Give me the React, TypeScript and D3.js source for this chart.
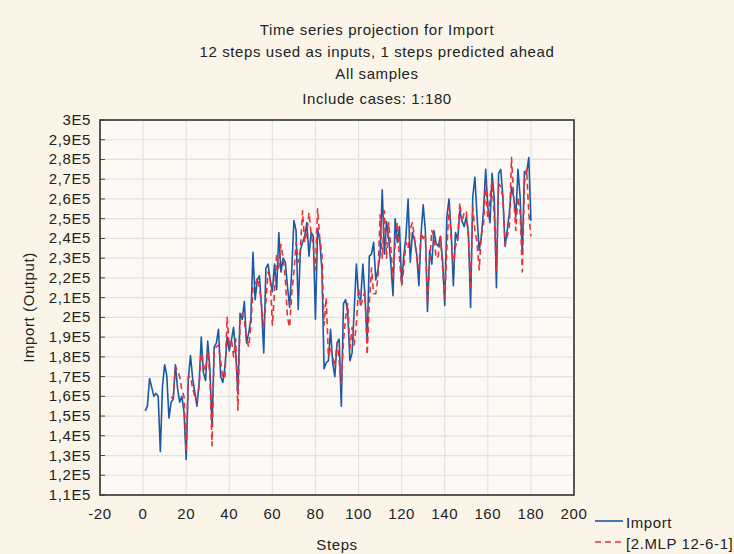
import React from "react";
import * as d3 from "d3";

// Import series (units of 1E4), steps 1..180
const importValues: number[] = [
  15.26, 15.5, 16.9, 16.45, 16.0, 16.15, 16.0, 13.2, 16.5, 17.6,
  17.05, 14.9, 15.7, 15.86, 17.6, 16.4, 15.7, 16.0, 15.2, 12.8,
  16.9, 18.06, 16.9, 16.2, 15.5, 16.7, 19.0, 17.2, 16.8, 18.8,
  17.4, 14.5, 18.5, 18.7, 19.4, 17.0, 16.7, 17.5, 19.0, 18.3,
  18.85, 19.5, 18.2, 16.15, 20.2, 19.9, 20.8, 18.7, 19.2, 19.9,
  23.3, 20.9, 21.9, 22.1, 20.5, 18.2, 22.5, 22.7, 21.9, 21.3,
  22.7, 21.4, 24.3, 22.3, 23.0, 22.8, 21.6, 20.5, 22.4, 24.9,
  24.4, 20.4, 23.4, 23.8, 24.1, 24.8, 23.1, 24.3, 24.1, 19.9,
  24.5, 23.9, 22.4, 17.4, 17.7, 17.8, 19.4, 17.7, 17.0, 18.7,
  18.9, 15.5, 20.7, 20.9, 20.2, 17.8, 18.2, 20.4, 22.7, 21.0,
  20.9, 22.7, 21.05, 18.7, 23.1, 23.2, 23.8, 21.9, 22.4, 23.2,
  26.46, 23.2, 24.85, 24.0, 22.7, 21.1, 25.0, 23.8, 24.6, 21.7,
  23.1, 24.1, 26.0, 22.8, 24.3, 23.9, 23.2, 21.6, 24.2, 25.7,
  24.4, 20.3, 23.4, 22.7, 24.4, 23.75, 23.6, 24.1, 22.9, 20.6,
  25.1, 26.0, 24.3, 21.6, 24.3, 23.9, 25.4, 24.9, 24.6, 25.1,
  24.3, 20.5, 26.1, 27.1, 25.1, 23.4, 24.1, 25.4, 27.5, 25.6,
  24.8, 27.3, 26.0, 21.5, 27.3, 27.5, 26.1, 23.6, 24.4, 25.3,
  26.6, 26.1, 25.1, 27.5, 26.1, 23.2, 27.4, 27.3, 28.1, 24.9,
];

// MLP prediction (units of 1E4), steps 13..180
const predStart = 13;
const predValues: number[] = [
  15.9, 16.0, 17.5, 17.3, 17.0, 16.3, 16.0, 13.2,
  17.0, 17.0, 16.4, 16.0, 15.8, 16.5, 18.2, 17.6, 17.3, 18.3,
  17.0, 13.5, 18.4, 18.5, 18.6, 17.8, 16.9, 17.0, 20.0, 18.5,
  18.9, 18.0, 18.9, 15.3, 19.8, 20.2, 19.8, 18.9, 18.5, 19.5,
  21.5, 21.6, 22.0, 21.5, 20.6, 19.5, 20.8, 22.3, 22.0, 19.6,
  21.3, 23.2, 22.5, 23.7, 23.0, 22.0, 20.0, 19.5, 21.2, 22.3,
  23.8, 22.8, 23.4, 25.4, 23.8, 24.3, 25.3, 24.2, 23.6, 22.4,
  25.5, 24.0, 23.2, 19.6, 21.0, 18.0, 18.5, 18.0, 17.5, 18.7,
  17.8, 16.6, 18.8, 20.0, 20.7, 18.4, 19.5, 18.6, 19.7, 21.5,
  20.5, 21.0, 21.3, 18.1, 20.7, 22.5, 21.2, 21.2, 22.0, 25.2,
  23.0, 25.4, 23.0, 24.8, 23.5, 22.0, 23.8, 24.8, 23.0, 21.6,
  22.5, 23.8, 23.5, 24.5, 24.8, 24.0, 23.0, 22.5, 24.3, 24.0,
  24.2, 20.7, 22.8, 24.4, 24.1, 23.0, 23.1, 24.1, 22.5, 21.0,
  23.5, 25.6, 24.0, 22.6, 23.6, 24.0, 25.8, 24.8, 25.3, 25.4,
  24.0, 21.4, 25.6, 24.4, 23.8, 22.4, 24.2, 24.7, 26.8, 25.0,
  26.1, 26.9, 25.1, 22.4, 26.8, 26.6, 26.1, 23.7, 24.1, 24.6,
  28.1, 26.1, 24.4, 26.1, 25.3, 22.3, 26.8, 27.5, 25.3, 24.1,
];

const xTicks: number[] = [-20, 0, 20, 40, 60, 80, 100, 120, 140, 160, 180, 200];
const yTicks: number[] = [11, 12, 13, 14, 15, 16, 17, 18, 19, 20, 21, 22, 23, 24, 25, 26, 27, 28, 29, 30];
const titleLines: string[] = [
  "Time series projection for Import",
  "12 steps used as inputs, 1 steps predicted ahead",
  "All samples",
];
const subtitle = "Include cases: 1:180";
const legendLabels: string[] = ["Import", "[2.MLP 12-6-1]"];

const W = 734;
const H = 554;
const L = 100, R = 574, T = 120, B = 495;
const FONT = "'Liberation Sans', Arial, sans-serif";
const FS = 15;
const LS = 0.6;
const BLUE = "#1a5aa3";
const RED = "#e8303a";
const TXT = "#222";

function fmtY(v: number): string {
  const s = (v / 10).toString().replace(".", ",");
  return s + "E5";
}

export default function App() {
  const x = d3.scaleLinear().domain([-20, 200]).range([L, R]);
  const y = d3.scaleLinear().domain([11, 30]).range([B, T]);

  const importPts: [number, number][] = importValues.map((v, i) => [i + 1, v]);
  const predPts: [number, number][] = predValues.map((v, i) => [i + predStart, v]);

  const line = d3
    .line<[number, number]>()
    .x((d) => x(d[0]))
    .y((d) => y(d[1]));

  const tp = { fontSize: FS, letterSpacing: LS, fill: TXT } as const;

  return (
    <svg
      width={W}
      height={H}
      style={{ position: "absolute", left: 0, top: 0 }}
      fontFamily={FONT}
    >
      <rect x={0} y={0} width={W} height={H} fill="#fbf5e9" />
      <rect x={L} y={T} width={R - L} height={B - T} fill="#fdfaf5" />
      {/* grid */}
      {yTicks.map((t) => (
        <line key={"gy" + t} x1={L} x2={R} y1={y(t)} y2={y(t)} stroke="#e2e2e2" strokeWidth={1.2} />
      ))}
      {xTicks.map((t) => (
        <line key={"gx" + t} x1={x(t)} x2={x(t)} y1={T} y2={B} stroke="#e2e2e2" strokeWidth={1.2} />
      ))}
      {/* ticks */}
      {yTicks.map((t) => (
        <line key={"ty" + t} x1={L} x2={L + 5} y1={y(t)} y2={y(t)} stroke="#444" strokeWidth={1} />
      ))}
      {/* series */}
      <path d={line(importPts) || ""} fill="none" stroke={BLUE} strokeWidth={1.6} strokeLinejoin="round" />
      <path d={line(predPts) || ""} fill="none" stroke={RED} strokeWidth={1.6} strokeDasharray="6,4" strokeLinejoin="round" />
      {/* frame */}
      <rect x={L} y={T} width={R - L} height={B - T} fill="none" stroke="#333" strokeWidth={1.6} />
      {/* y tick labels */}
      {yTicks.map((t) => (
        <text key={"ly" + t} x={91} y={y(t) + 5} textAnchor="end" {...tp}>
          {fmtY(t)}
        </text>
      ))}
      {/* x tick labels */}
      {xTicks.map((t) => (
        <text key={"lx" + t} x={x(t)} y={519} textAnchor="middle" {...tp}>
          {t}
        </text>
      ))}
      {/* titles */}
      {titleLines.map((s, i) => (
        <text key={"t" + i} x={377} y={35 + i * 22} textAnchor="middle" {...tp}>
          {s}
        </text>
      ))}
      <text x={377} y={104} textAnchor="middle" {...tp}>
        {subtitle}
      </text>
      {/* axis titles */}
      <text x={(L + R) / 2} y={550} textAnchor="middle" {...tp}>
        Steps
      </text>
      <text
        transform={`translate(34,${(T + B) / 2}) rotate(-90)`}
        textAnchor="middle"
        {...tp}
      >
        Import (Output)
      </text>
      {/* legend */}
      <line x1={595} x2={623} y1={521} y2={521} stroke={BLUE} strokeWidth={1.6} />
      <text x={626} y={528} {...tp}>
        {legendLabels[0]}
      </text>
      <line x1={595} x2={623} y1={542} y2={542} stroke={RED} strokeWidth={1.6} strokeDasharray="6,4" />
      <text x={626} y={549} {...tp}>
        {legendLabels[1]}
      </text>
    </svg>
  );
}
